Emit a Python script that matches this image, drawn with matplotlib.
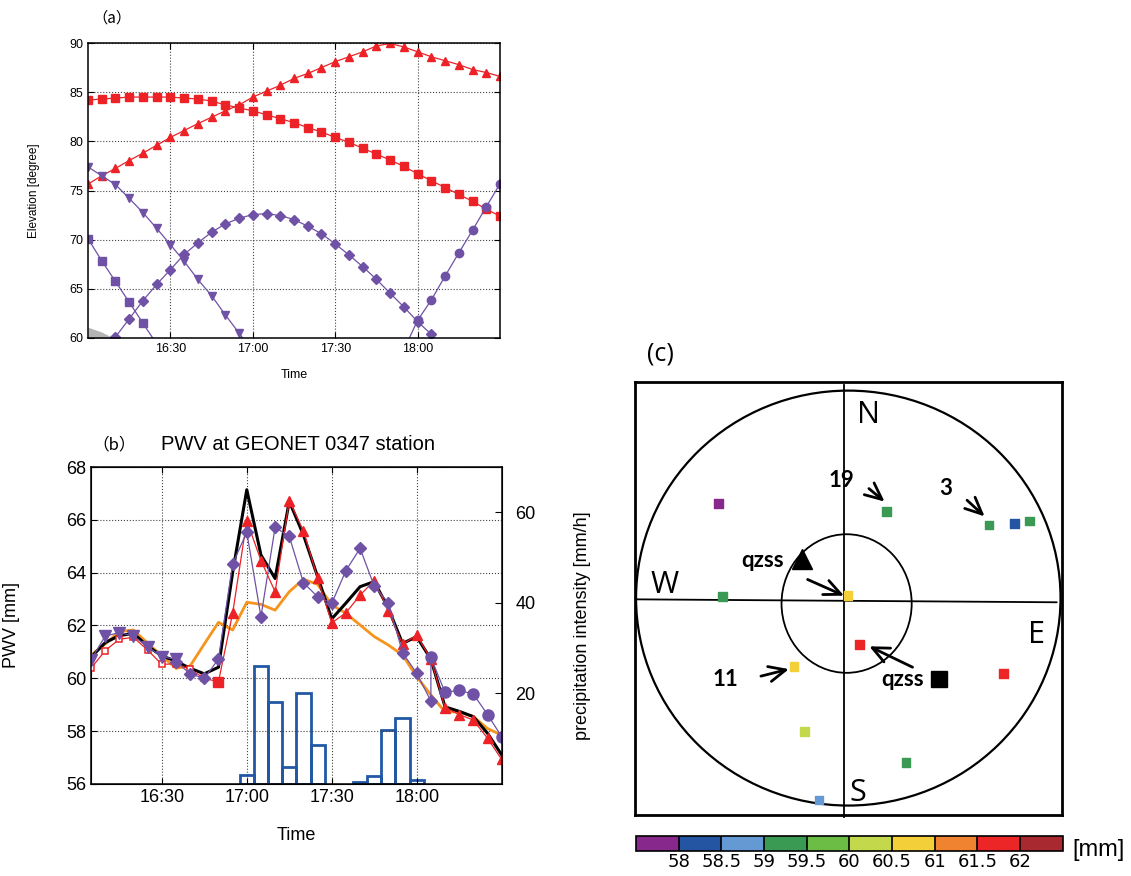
import numpy as np
import pandas as pd
import matplotlib
matplotlib.use('Agg')
import matplotlib.pyplot as plt
import matplotlib.dates as mdates
from matplotlib.patches import Ellipse
from matplotlib.colors import ListedColormap, BoundaryNorm
from matplotlib.cm import ScalarMappable

plt.rcParams['font.family'] = ['Liberation Sans', 'DejaVu Sans']

nan = np.nan
day = '2000-01-01 '

##Data##
tick_times = ['16:30', '17:00', '17:30', '18:00']

# (a) satellite elevation, every 5 min from 16:00 to 18:30
t_a = pd.date_range(day + '16:00', day + '18:30', freq='5min')
red_tri = [75.65, 76.5, 77.25, 78.05, 78.8, 79.6, 80.4, 81.1, 81.8, 82.45, 83.1,
           83.7, 84.5, 85.1, 85.7, 86.4, 86.9, 87.5, 88.1, 88.6, 89.1, 89.7,
           89.95, 89.6, 89.1, 88.6, 88.2, 87.8, 87.3, 87.0, 86.6]
red_sq = [84.2, 84.3, 84.4, 84.5, 84.5, 84.5, 84.5, 84.4, 84.3, 84.1, 83.7,
          83.4, 83.1, 82.7, 82.3, 81.9, 81.4, 80.95, 80.4, 79.9, 79.3, 78.7,
          78.1, 77.45, 76.7, 76.0, 75.3, 74.6, 73.9, 73.1, 72.4]
pur_tri = [77.4, 76.5, 75.6, 74.2, 72.75, 71.15, 69.5, 67.8, 65.95, 64.3, 62.35,
           60.5, 58.6] + [nan] * 18
pur_sq = [70.1, 67.85, 65.75, 63.65, 61.5, 59.4] + [nan] * 25
pur_dia = [nan, 58.3, 60.1, 61.95, 63.8, 65.45, 66.95, 68.5, 69.67, 70.76, 71.6,
           72.18, 72.55, 72.65, 72.45, 72.05, 71.37, 70.6, 69.57, 68.45, 67.26,
           65.97, 64.55, 63.16, 61.66, 60.37, 59.0, nan, nan, nan, nan]
pur_cir = [nan] * 23 + [58.8, 61.8, 63.86, 66.3, 68.65, 70.96, 73.34, 75.68]
mask_t = pd.to_datetime([day + '16:00', day + '16:05', day + '16:10'])
mask_el = [61.1, 60.6, 59.9]

# (b) PWV every 5 min from 16:05 to 18:30
t_b = pd.date_range(day + '16:05', day + '18:30', freq='5min')
pwv_black = [60.8, 61.35, 61.62, 61.7, 61.22, 60.85, 60.65, 60.38, 60.17, 60.42,
             64.0, 67.14, 64.67, 63.78, 66.7, 65.43, 63.85, 62.25, 62.85, 63.47,
             63.66, 62.65, 61.32, 61.58, 60.72, 58.92, 58.75, 58.55, 57.92, 57.1]
pwv_red = [60.38, 61.05, 61.48, 61.55, 61.07, 60.53, 60.55, 60.34, 60.0, 59.87,
           62.46, 65.97, 64.46, 63.28, 66.73, 65.58, 63.79, 62.1, 62.48, 63.15,
           63.7, 62.56, 61.29, 61.64, 60.72, 58.89, 58.63, 58.42, 57.73, 56.93]
pwv_orange = [60.88, 61.3, 61.77, 61.83, 61.33, 60.85, 60.38, 60.47, 61.3, 62.12,
              61.83, 62.88, 62.8, 62.58, 63.28, 63.75, 63.56, 62.78, 62.46, 62.02,
              61.58, 61.26, 60.88, 60.06, 59.37, 58.73, 58.73, 58.55, 58.1, 57.85]
pv_tri_t = ['16:05', '16:10', '16:15', '16:20', '16:25', '16:30', '16:35']
pv_tri = [60.7, 61.6, 61.73, 61.6, 61.2, 60.82, 60.72]
pv_dia_t = ['16:35', '16:40', '16:45', '16:50', '16:55', '17:00', '17:05', '17:10',
            '17:15', '17:20', '17:25', '17:30', '17:35', '17:40', '17:45', '17:50',
            '17:55', '18:00', '18:05']
pv_dia = [60.63, 60.17, 60.0, 60.73, 64.33, 65.53, 62.33, 65.72, 65.37, 63.62,
          63.09, 62.84, 64.08, 64.92, 63.49, 62.86, 60.97, 60.19, 59.14]
pv_cir_t = ['18:05', '18:10', '18:15', '18:20', '18:25', '18:30']
pv_cir = [60.79, 59.47, 59.55, 59.40, 58.63, 57.79]

rain_t = ['17:00', '17:05', '17:10', '17:15', '17:20', '17:25',
          '17:40', '17:45', '17:50', '17:55', '18:00']
rain = [2.0, 26.1, 18.0, 3.8, 20.0, 8.7, 0.4, 1.7, 12.0, 14.6, 0.9]

# (c) sky positions (x east, y north, horizon = 1) and slant PWV
sat_x = [-0.608, 0.194, 0.681, 0.803, 0.873, -0.587, 0.010, 0.065, -0.248, 0.752,
         -0.197, 0.286, -0.129]
sat_y = [0.451, 0.413, 0.348, 0.356, 0.367, 0.006, 0.014, -0.222, -0.324, -0.359,
         -0.637, -0.782, -0.962]
sat_pwv = [57.8, 59.3, 59.3, 58.3, 59.3, 59.3, 60.8, 61.8, 60.8, 61.8, 60.3, 59.3, 58.8]

cbar_bounds = [57.5, 58, 58.5, 59, 59.5, 60, 60.5, 61, 61.5, 62, 62.5]
cbar_ticks = [58, 58.5, 59, 59.5, 60, 60.5, 61, 61.5, 62]
cbar_colors = ['#86288c', '#2455a2', '#6499d3', '#3a9953', '#6cbd45',
               '#c3d84b', '#f3d03a', '#f0832f', '#ec2527', '#a8292f']

RED = '#ec2227'
PUR = '#6f52a5'
ORG = '#f7941d'
BLUE = '#2157a5'


def tt(lst):
    return pd.to_datetime([day + s for s in lst])


def gnuplot_axes(ax, size):
    ax.tick_params(direction='in', top=True, right=True, length=4, labelsize=size)
    ax.grid(ls=':', color='#444444', lw=0.8)
    for s in ax.spines.values():
        s.set_linewidth(1.1)
    ax.set_xticks(tt(tick_times))
    ax.xaxis.set_major_formatter(mdates.DateFormatter('%H:%M'))


W, H = 1131, 876
fig = plt.figure(figsize=(W / 100, H / 100), dpi=100)

##Panel (a)##
ax_a = fig.add_axes([88 / W, 1 - 338 / H, 412 / W, 295 / H])
ax_a.fill_between(mask_t, 50, mask_el, color='#b4b4b4', lw=0)
kw = dict(lw=0.9, ms=6)
ax_a.plot(t_a, red_tri, '-^', color=RED, **kw)
ax_a.plot(t_a, red_sq, '-s', color=RED, **kw)
ax_a.plot(t_a, pur_tri, '-v', color=PUR, **kw)
ax_a.plot(t_a, pur_sq, '-s', color=PUR, **kw)
ax_a.plot(t_a, pur_dia, '-D', color=PUR, lw=0.9, ms=5)
ax_a.plot(t_a, pur_cir, '-o', color=PUR, **kw)
ax_a.set_xlim(t_a[0], t_a[-1])
ax_a.set_ylim(60, 90)
ax_a.set_yticks([60, 65, 70, 75, 80, 85, 90])
gnuplot_axes(ax_a, 9)
ax_a.set_ylabel('Elevation [degree]', fontsize=8.5)
ax_a.yaxis.set_label_coords(-0.117, 0.5)
ax_a.set_xlabel('Time', fontsize=9)
ax_a.xaxis.set_label_coords(0.5, -0.105)
fig.text(92 / W, 1 - 18 / H, '（a）', fontsize=11, va='center',
         family=['Noto Sans CJK JP', 'DejaVu Sans'])

##Panel (b)##
ax_r = fig.add_axes([91 / W, 1 - 784 / H, 410.7 / W, 317 / H])
ax_b = fig.add_axes([91 / W, 1 - 784 / H, 410.7 / W, 317 / H], sharex=ax_r)
ax_b.set_zorder(2)
ax_b.patch.set_visible(False)

ax_r.bar(tt(rain_t), rain, width=5 / 1440, facecolor='none', edgecolor=BLUE, lw=2)
ax_r.set_ylim(0, 70)
ax_r.set_yticks([20, 40, 60])
ax_r.yaxis.tick_right()
ax_r.yaxis.set_label_position('right')
ax_r.tick_params(axis='y', direction='in', length=5, labelsize=13, pad=10)
ax_r.tick_params(axis='x', bottom=False, labelbottom=False)
ax_r.set_ylabel('precipitation intensity [mm/h]', fontsize=13)
ax_r.yaxis.set_label_coords(1.175, 0.5)

ax_b.plot(t_b, pwv_orange, color=ORG, lw=2)
ax_b.plot(t_b, pwv_black, color='black', lw=2.2)
ax_b.plot(t_b, pwv_red, color=RED, lw=0.9)
ax_b.plot(t_b[:9], pwv_red[:9], 's', color=RED, mfc='white', mew=1.1, ms=5)
ax_b.plot(t_b[9:10], pwv_red[9:10], 's', color=RED, ms=7)
ax_b.plot(t_b[10:], pwv_red[10:], '^', color=RED, ms=7)
pv_t = list(tt(pv_tri_t)) + list(tt(pv_dia_t)) + list(tt(pv_cir_t))
ax_b.plot(pv_t, pv_tri + pv_dia + pv_cir, color=PUR, lw=0.9)
ax_b.plot(tt(pv_tri_t), pv_tri, 'v', color=PUR, ms=8)
ax_b.plot(tt(pv_dia_t), pv_dia, 'D', color=PUR, ms=6)
ax_b.plot(tt(pv_cir_t), pv_cir, 'o', color=PUR, ms=8)

ax_b.set_xlim(t_b[0], t_b[-1])
ax_b.set_ylim(56, 68)
ax_b.set_yticks([56, 58, 60, 62, 64, 66, 68])
gnuplot_axes(ax_b, 13)
ax_b.tick_params(right=False)
ax_b.set_ylabel('PWV [mm]', fontsize=13)
ax_b.yaxis.set_label_coords(-0.173, 0.5)
ax_b.set_xlabel('Time', fontsize=13)
ax_b.xaxis.set_label_coords(0.5, -0.135)
fig.text(92 / W, 1 - 445 / H, '（b）', fontsize=12, va='center',
         family=['Noto Sans CJK JP', 'DejaVu Sans'])
fig.text(298 / W, 1 - 444 / H, 'PWV at GEONET 0347 station', fontsize=14.5,
         ha='center', va='center')

##Panel (c)##
ax_c = fig.add_axes([635 / W, 1 - 815 / H, 427 / W, 433 / H])
ax_c.set_xlim(-1.005, 1.029)
ax_c.set_ylim(-1.033, 1.029)
ax_c.set_xticks([])
ax_c.set_yticks([])
for s in ax_c.spines.values():
    s.set_linewidth(2)
ax_c.add_patch(Ellipse((0.011, 0), 2.022, 1.976, fill=False, lw=1.6, color='black'))
ax_c.add_patch(Ellipse((0.003, -0.026), 0.62, 0.66, fill=False, lw=1.3, color='black'))
ax_c.plot([-0.008, -0.008], [1.014, -1.041], color='black', lw=1.3, clip_on=False)
ax_c.plot([-1.0, 1.003], [-0.006, -0.02], color='black', lw=1.3)

cmap = ListedColormap(cbar_colors)
norm = BoundaryNorm(cbar_bounds, cmap.N)
ax_c.scatter(sat_x, sat_y, c=sat_pwv, cmap=cmap, norm=norm, marker='s', s=40, zorder=3)

for txt, x, y in [('N', 0.106, 0.871), ('W', -0.862, 0.062),
                  ('E', 0.908, -0.176), ('S', 0.054, -0.927)]:
    ax_c.text(x, y, txt, fontsize=22, ha='center', va='center', family='Open Sans')

arrow = dict(arrowstyle='->,head_length=1.2,head_width=0.55', lw=2, color='black')
bold = dict(fontsize=16, fontweight='bold', ha='center', va='center', family='Lato')
ax_c.annotate('', xy=(0.194, 0.451), xytext=(0.099, 0.530), arrowprops=arrow)
ax_c.text(-0.020, 0.562, '19', **bold)
ax_c.annotate('', xy=(0.670, 0.380), xytext=(0.567, 0.475), arrowprops=arrow)
ax_c.text(0.476, 0.522, '3', **bold)
ax_c.annotate('', xy=(0.003, 0.006), xytext=(-0.195, 0.094), arrowprops=arrow)
ax_c.text(-0.397, 0.181, 'qzss', **bold)
ax_c.plot(-0.211, 0.184, '^', color='black', ms=15)
ax_c.annotate('', xy=(-0.259, -0.335), xytext=(-0.418, -0.375), arrowprops=arrow)
ax_c.text(-0.576, -0.390, '11', **bold)
ax_c.annotate('', xy=(0.099, -0.224), xytext=(0.329, -0.335), arrowprops=arrow)
ax_c.text(0.270, -0.387, 'qzss', **bold)
ax_c.plot(0.444, -0.387, 's', color='black', ms=11)
fig.text(660 / W, 1 - 354 / H, '(c)', fontsize=18, ha='center', va='center',
         family='Open Sans')

cax = fig.add_axes([636 / W, 1 - 850.7 / H, 426.7 / W, 14.7 / H])
cb = fig.colorbar(ScalarMappable(norm=norm, cmap=cmap), cax=cax,
                  orientation='horizontal', ticks=cbar_ticks, drawedges=True)
cb.outline.set_linewidth(1.2)
cb.dividers.set_linewidth(1.2)
cb.ax.minorticks_off()
cb.ax.tick_params(length=0, labelsize=13, pad=2)
cb.ax.set_xticklabels([f'{v:g}' for v in cbar_ticks], family='DejaVu Sans')
fig.text(1098 / W, 1 - 850 / H, '[mm]', fontsize=17, ha='center', va='center')

fig.savefig('out.png', dpi=100)
